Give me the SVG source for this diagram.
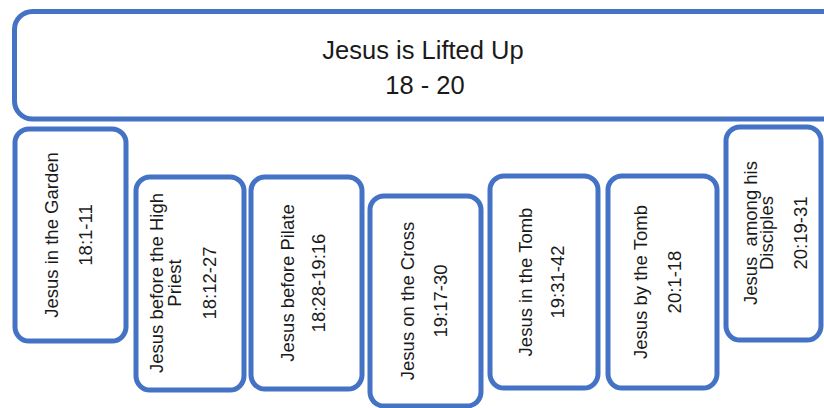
<svg xmlns="http://www.w3.org/2000/svg" width="824" height="408" viewBox="0 0 824 408">
<style>
.box{fill:#fff;stroke:#4472C4;stroke-width:5}
.t{font-family:"Liberation Sans",Arial,sans-serif;font-size:18.5px;fill:#1a1a1a;text-anchor:middle;white-space:pre}
.title{font-family:"Liberation Sans",Arial,sans-serif;font-size:25.5px;fill:#1a1a1a;text-anchor:middle}
</style>
<rect width="824" height="408" fill="#fff"/>
<g id="top">
<rect class="box" x="14.5" y="11.5" width="830" height="107.5" rx="18"/>
<text class="title" x="423" y="59">Jesus is Lifted Up</text>
<text class="title" x="425" y="94">18 - 20</text>
</g>
<g id="n1">
<rect class="box" x="15" y="129" width="111" height="212" rx="14"/>
<text class="t" transform="translate(58,235) rotate(-90)">Jesus in the Garden</text>
<text class="t" transform="translate(92,235) rotate(-90)">18:1-11</text>
</g>
<g id="n2">
<rect class="box" x="136" y="177" width="108" height="213" rx="14"/>
<text class="t" transform="translate(163,283) rotate(-90)">Jesus before the High</text>
<text class="t" transform="translate(181,283) rotate(-90)">Priest</text>
<text class="t" transform="translate(216,283) rotate(-90)">18:12-27</text>
</g>
<g id="n3">
<rect class="box" x="251" y="177" width="111" height="212" rx="14"/>
<text class="t" transform="translate(294,283) rotate(-90)">Jesus before Pilate</text>
<text class="t" transform="translate(325,283) rotate(-90)">18:28-19:16</text>
</g>
<g id="n4">
<rect class="box" x="370" y="196" width="111" height="210" rx="14"/>
<text class="t" transform="translate(414,301) rotate(-90)">Jesus on the Cross</text>
<text class="t" transform="translate(447,301) rotate(-90)">19:17-30</text>
</g>
<g id="n5">
<rect class="box" x="490" y="176" width="108" height="212" rx="14"/>
<text class="t" transform="translate(532,282) rotate(-90)">Jesus in the Tomb</text>
<text class="t" transform="translate(564,282) rotate(-90)">19:31-42</text>
</g>
<g id="n6">
<rect class="box" x="608" y="176" width="109" height="212" rx="14"/>
<text class="t" transform="translate(647,282) rotate(-90)">Jesus by the Tomb</text>
<text class="t" transform="translate(681,282) rotate(-90)">20:1-18</text>
</g>
<g id="n7">
<rect class="box" x="726" y="127" width="95" height="213" rx="14"/>
<text class="t" transform="translate(757,233) rotate(-90)">Jesus  among his</text>
<text class="t" transform="translate(773,233) rotate(-90)">Disciples</text>
<text class="t" transform="translate(807,233) rotate(-90)">20:19-31</text>
</g>
<g id="connectors"></g>
</svg>
